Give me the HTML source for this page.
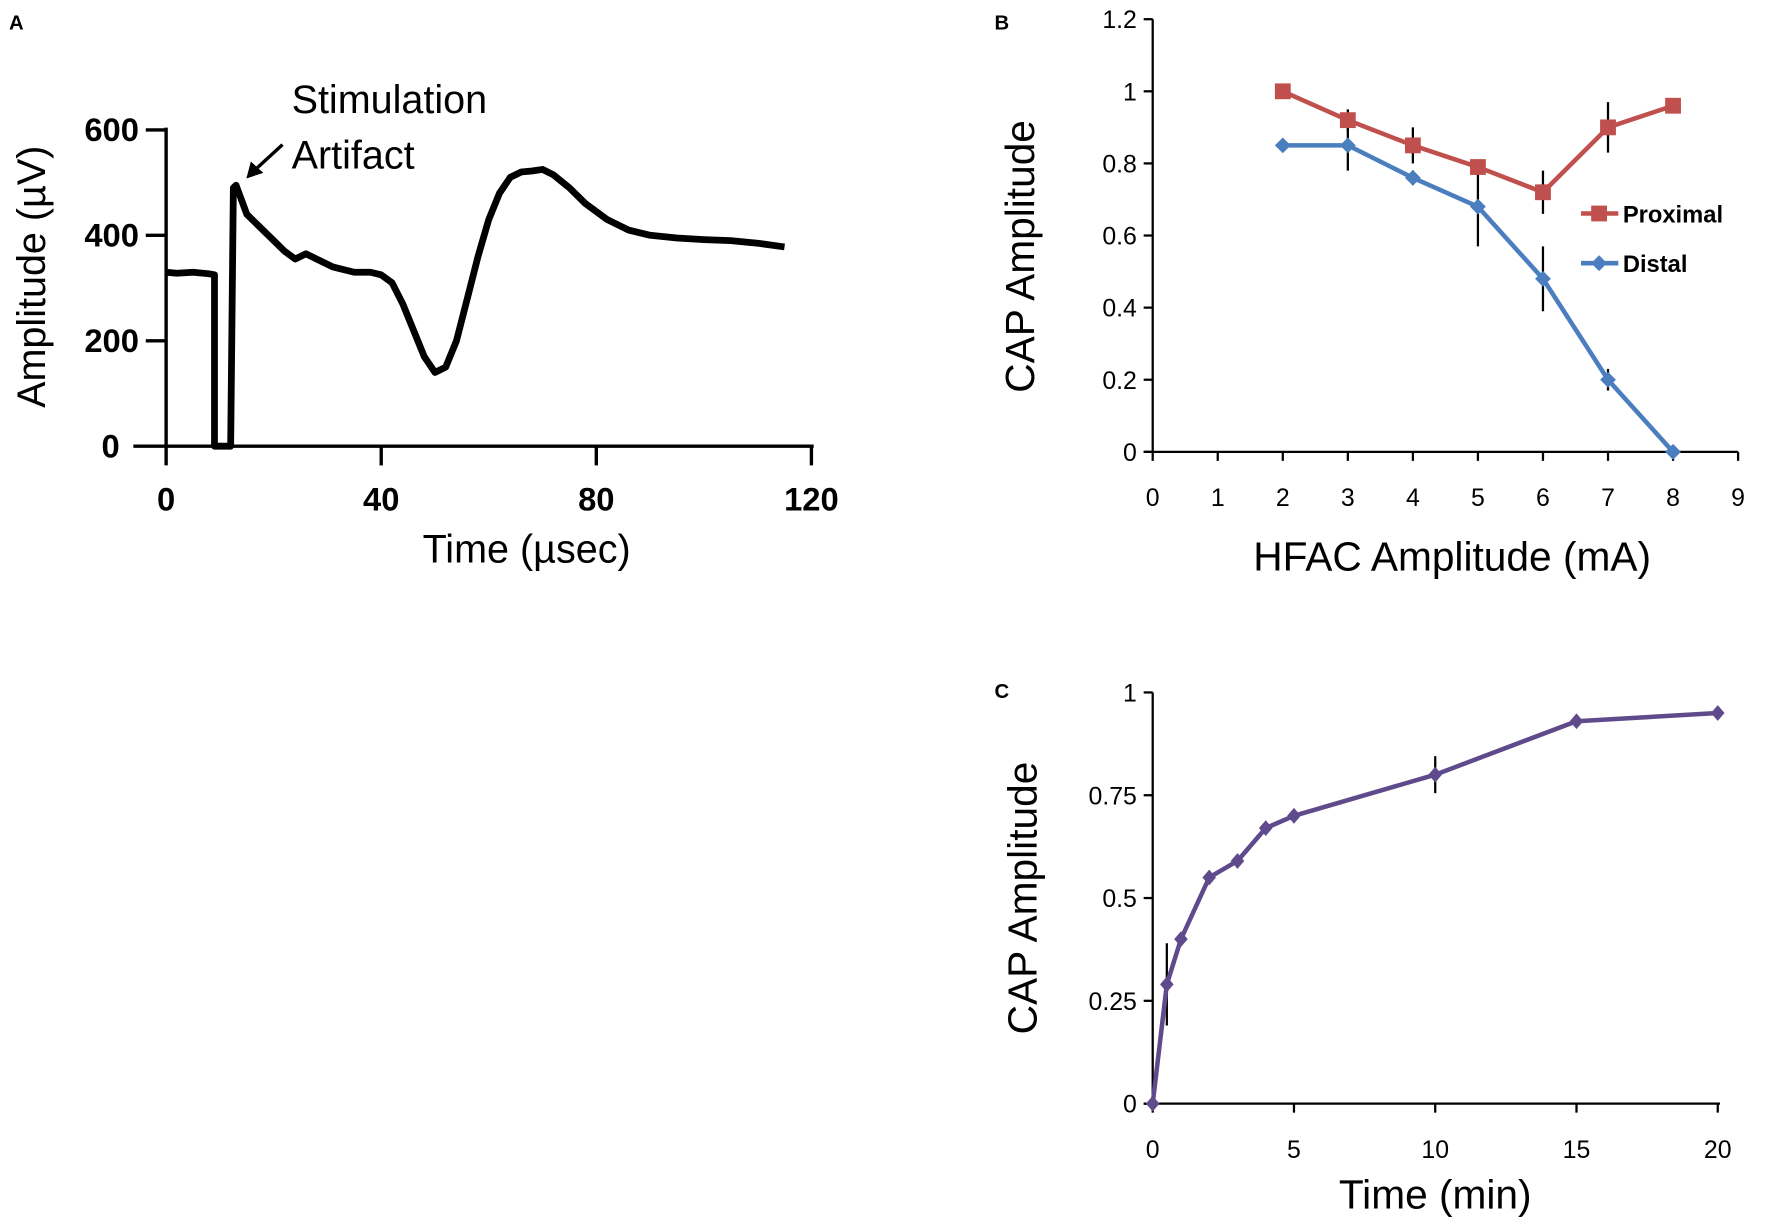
<!DOCTYPE html>
<html><head><meta charset="utf-8"><style>
html,body{margin:0;padding:0;background:#fff;width:1772px;height:1229px;overflow:hidden}
svg{display:block}
text{font-family:"Liberation Sans",sans-serif}
</style></head><body>
<svg id="fig" width="1772" height="1229" viewBox="0 0 1568 1088" preserveAspectRatio="none" xmlns="http://www.w3.org/2000/svg">
<g id="A"></g>
<g id="B"></g>
<g id="C"></g>
</svg>
<script>
// Panel A data
const traceT = [0,2,5,8,9,9,12,12.5,13,15,17,20,22,24,26,28,31,35,38,40,42,44,46,48,50,52,54,56,58,60,62,64,66,68,70,72,75,78,82,86,90,95,100,105,110,115];
const traceV = [330,328,330,327,325,0,0,490,495,440,420,390,370,355,365,355,340,330,330,325,310,270,220,170,140,150,200,280,360,430,480,510,520,522,525,515,490,460,430,410,400,395,392,390,385,378];
const aXTicks = [0,40,80,120];
const aYTicks = [0,200,400,600];
// Panel B data
const bX = [2,3,4,5,6,7,8];
const proximal = [1.0,0.92,0.85,0.79,0.72,0.90,0.96];
const proximalErr = [0,0.03,0.05,0.02,0.06,0.07,0];
const distal = [0.85,0.85,0.76,0.68,0.48,0.20,0.0];
const distalErr = [0,0.07,0.02,0.11,0.09,0.03,0];
const bXTicks = [0,1,2,3,4,5,6,7,8,9];
const bYTicks = [0,0.2,0.4,0.6,0.8,1,1.2];
const bYLabels = ["0","0.2","0.4","0.6","0.8","1","1.2"];
// Panel C data
const cX = [0,0.5,1,2,3,4,5,10,15,20];
const cY = [0,0.29,0.40,0.55,0.59,0.67,0.70,0.80,0.93,0.95];
const cErr = [0,0.1,0,0,0,0,0,0.045,0,0];
const cXTicks = [0,5,10,15,20];
const cYTicks = [0,0.25,0.5,0.75,1];
const cYLabels = ["0","0.25","0.5","0.75","1"];

const NS="http://www.w3.org/2000/svg";
function mk(parent,tag,attrs,txt){const e=document.createElementNS(NS,tag);for(const k in attrs)e.setAttribute(k,attrs[k]);if(txt!==undefined)e.textContent=txt;parent.appendChild(e);return e;}

// ---------- Panel A ----------
(function(){
const g=document.getElementById('A');
const ax=t=>147+t*(718-147)/120, ay=v=>395-v*(280/600);
let e;
e=mk(g,'text',{x:8,y:26,'font-size':18,'font-weight':'bold'},'A');


e=mk(g,'line',{x1:147,y1:113,x2:147,y2:412,stroke:'#000','stroke-width':3});


e=mk(g,'line',{x1:118,y1:395,x2:720,y2:395,stroke:'#000','stroke-width':3});


aXTicks.forEach(t=>{
 if(t>0){e=mk(g,'line',{x1:ax(t),y1:395,x2:ax(t),y2:412,stroke:'#000','stroke-width':3});
 
 }
 e=mk(g,'text',{x:ax(t),y:452,'font-size':29,'font-weight':'bold','text-anchor':'middle'},String(t));
 
 
});
aYTicks.forEach(v=>{
 if(v>0){e=mk(g,'line',{x1:129,y1:ay(v),x2:147,y2:ay(v),stroke:'#000','stroke-width':3});
 
 }
 e=mk(g,'text',{x:v===0?106:123,y:ay(v)+10,'font-size':29,'font-weight':'bold','text-anchor':'end'},String(v));
 
 
});
let d=traceT.map((t,i)=>(i?'L':'M')+ax(t).toFixed(1)+' '+ay(traceV[i]).toFixed(1)).join(' ');
e=mk(g,'path',{d:d,fill:'none',stroke:'#000','stroke-width':6,'stroke-linejoin':'round'});


e=mk(g,'text',{x:258,y:100,'font-size':35},'Stimulation');


e=mk(g,'text',{x:258,y:149,'font-size':35},'Artifact');


e=mk(g,'line',{x1:250,y1:128,x2:226,y2:150,stroke:'#000','stroke-width':3});


e=mk(g,'path',{d:'M218 158 L222 143 L233 153 Z',fill:'#000'});


e=mk(g,'text',{x:0,y:0,'font-size':35,'text-anchor':'middle',transform:'translate(40,245) rotate(-90)'},'Amplitude (µV)');


e=mk(g,'text',{x:466,y:498,'font-size':35,'text-anchor':'middle'},'Time (µsec)');


})();

// ---------- Panel B ----------
(function(){
const g=document.getElementById('B');
const bx=x=>1020+x*(1538-1020)/9, by=v=>400-v*(383/1.2);
let e;
e=mk(g,'text',{x:880,y:26,'font-size':18,'font-weight':'bold'},'B');


e=mk(g,'line',{x1:1020,y1:17,x2:1020,y2:401,stroke:'#000','stroke-width':2});


e=mk(g,'line',{x1:1012,y1:400,x2:1538,y2:400,stroke:'#000','stroke-width':2});


bXTicks.forEach(x=>{
 e=mk(g,'line',{x1:bx(x),y1:400,x2:bx(x),y2:408,stroke:'#000','stroke-width':2});
 
 
 e=mk(g,'text',{x:bx(x),y:448,'font-size':22,'text-anchor':'middle'},String(x));
 
 
});
bYTicks.forEach((v,i)=>{
 e=mk(g,'line',{x1:1012,y1:by(v),x2:1020,y2:by(v),stroke:'#000','stroke-width':2});
 
 
 e=mk(g,'text',{x:1006,y:by(v)+8,'font-size':22,'text-anchor':'end'},bYLabels[i]);
 
 
});
function series(vals,errs,color,name,marker){
 bX.forEach((x,i)=>{ if(errs[i]>0){
  e=mk(g,'line',{x1:bx(x),y1:by(vals[i]+errs[i]),x2:bx(x),y2:by(vals[i]-errs[i]),stroke:'#000','stroke-width':2});
  
  }});
 const d=bX.map((x,i)=>(i?'L':'M')+bx(x).toFixed(1)+' '+by(vals[i]).toFixed(1)).join(' ');
 e=mk(g,'path',{d:d,fill:'none',stroke:color,'stroke-width':4,'stroke-linejoin':'round'});
 
 
 bX.forEach((x,i)=>{
  const cx=bx(x),cy=by(vals[i]);
  if(marker==='sq') e=mk(g,'rect',{x:cx-7,y:cy-7,width:14,height:14,fill:color});
  else e=mk(g,'path',{d:`M${cx} ${cy-7} L${cx+7} ${cy} L${cx} ${cy+7} L${cx-7} ${cy} Z`,fill:color});
  
  
 });
}
series(distal,distalErr,'#4a7ebf','distal','di');
series(proximal,proximalErr,'#c0504d','proximal','sq');
// legend
e=mk(g,'line',{x1:1399,y1:189,x2:1432,y2:189,stroke:'#c0504d','stroke-width':4});


e=mk(g,'rect',{x:1408,y:182,width:14,height:14,fill:'#c0504d'});


e=mk(g,'text',{x:1436,y:197,'font-size':21,'font-weight':'bold'},'Proximal');


e=mk(g,'line',{x1:1399,y1:233,x2:1432,y2:233,stroke:'#4a7ebf','stroke-width':4});


e=mk(g,'path',{d:'M1415 226 L1422 233 L1415 240 L1408 233 Z',fill:'#4a7ebf'});


e=mk(g,'text',{x:1436,y:241,'font-size':21,'font-weight':'bold'},'Distal');


e=mk(g,'text',{x:0,y:0,'font-size':36,'text-anchor':'middle',transform:'translate(915,227) rotate(-90)'},'CAP Amplitude');


e=mk(g,'text',{x:1285,y:505,'font-size':36,'text-anchor':'middle'},'HFAC Amplitude (mA)');


})();

// ---------- Panel C ----------
(function(){
const g=document.getElementById('C');
const cx=x=>1020+x*(1520-1020)/20, cy=v=>977-v*(977-613);
let e;
e=mk(g,'text',{x:880,y:618,'font-size':18,'font-weight':'bold'},'C');


e=mk(g,'line',{x1:1020,y1:613,x2:1020,y2:978,stroke:'#000','stroke-width':2});


e=mk(g,'line',{x1:1012,y1:977,x2:1522,y2:977,stroke:'#000','stroke-width':2});


cXTicks.forEach(x=>{
 e=mk(g,'line',{x1:cx(x),y1:977,x2:cx(x),y2:985,stroke:'#000','stroke-width':2});
 
 
 e=mk(g,'text',{x:cx(x),y:1025,'font-size':22,'text-anchor':'middle'},String(x));
 
 
});
cYTicks.forEach((v,i)=>{
 e=mk(g,'line',{x1:1012,y1:cy(v),x2:1020,y2:cy(v),stroke:'#000','stroke-width':2});
 
 
 e=mk(g,'text',{x:1006,y:cy(v)+8,'font-size':22,'text-anchor':'end'},cYLabels[i]);
 
 
});
cX.forEach((x,i)=>{ if(cErr[i]>0){
 e=mk(g,'line',{x1:cx(x),y1:cy(cY[i]+cErr[i]),x2:cx(x),y2:cy(cY[i]-cErr[i]),stroke:'#000','stroke-width':2});
 
 }});
const d=cX.map((x,i)=>(i?'L':'M')+cx(x).toFixed(1)+' '+cy(cY[i]).toFixed(1)).join(' ');
e=mk(g,'path',{d:d,fill:'none',stroke:'#5f4a8b','stroke-width':4,'stroke-linejoin':'round'});


cX.forEach((x,i)=>{
 const px=cx(x),py=cy(cY[i]);
 e=mk(g,'path',{d:`M${px} ${py-7} L${px+6} ${py} L${px} ${py+7} L${px-6} ${py} Z`,fill:'#5f4a8b'});
 
 
});
e=mk(g,'text',{x:0,y:0,'font-size':36,'text-anchor':'middle',transform:'translate(917,795) rotate(-90)'},'CAP Amplitude');


e=mk(g,'text',{x:1270,y:1070,'font-size':36,'text-anchor':'middle'},'Time (min)');


})();
</script>
</body></html>
